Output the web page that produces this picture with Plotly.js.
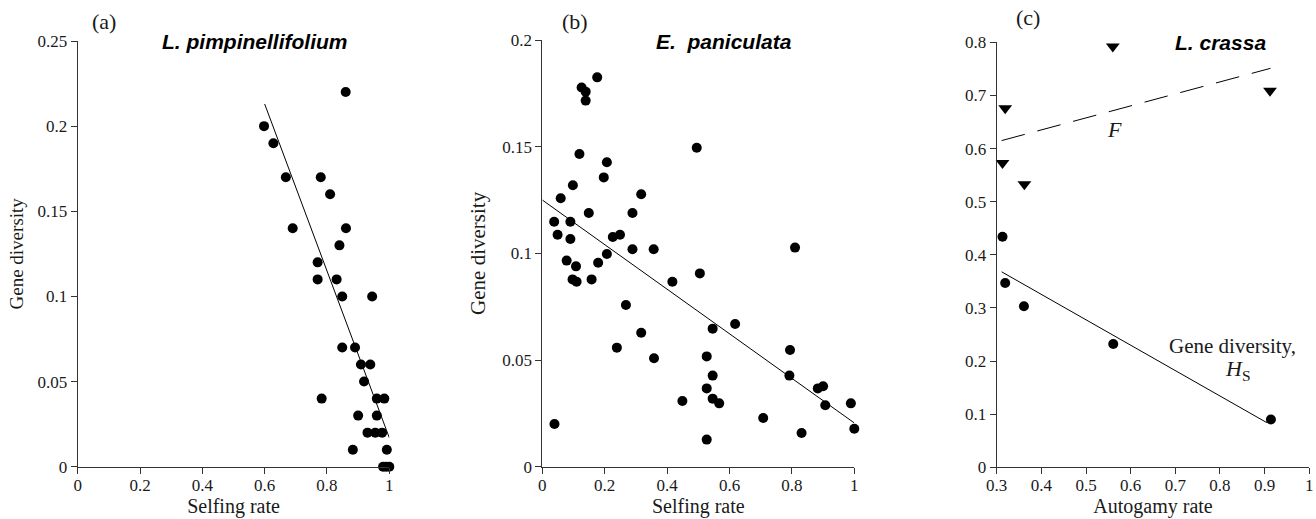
<!DOCTYPE html>
<html>
<head>
<meta charset="utf-8">
<script src="https://cdn.plot.ly/plotly-3.0.1.min.js"></script>
<style>
  html, body { margin: 0; padding: 0; background: #fff; }
  #chart { width: 1316px; height: 519px; }
</style>
</head>
<body>
<div id="chart"></div>
<script>
// ---- Panel (a): L. pimpinellifolium ----
const selfingA = [0.86, 0.598, 0.628, 0.668, 0.78, 0.81, 0.69, 0.861, 0.84, 0.77, 0.77, 0.831, 0.849, 0.945,
                  0.849, 0.89, 0.909, 0.939, 0.919, 0.783, 0.96, 0.984, 0.90, 0.96, 0.93, 0.955, 0.977,
                  0.883, 0.992, 0.98, 0.99, 1.0];
const diversityA = [0.22, 0.20, 0.19, 0.17, 0.17, 0.16, 0.14, 0.14, 0.13, 0.12, 0.11, 0.11, 0.10, 0.10,
                    0.07, 0.07, 0.06, 0.06, 0.05, 0.04, 0.04, 0.04, 0.03, 0.03, 0.02, 0.02, 0.02,
                    0.01, 0.01, 0.0, 0.0, 0.0];
const fitA_x = [0.6, 1.0];
const fitA_y = [0.213, 0.017];

// ---- Panel (b): E. paniculata ----
const selfingB = [0.176, 0.126, 0.139, 0.139, 0.495, 0.119, 0.207, 0.197, 0.098, 0.317, 0.059, 0.149, 0.289,
                  0.038, 0.09, 0.049, 0.09, 0.226, 0.249, 0.289, 0.357, 0.81, 0.207, 0.078, 0.108, 0.179,
                  0.097, 0.11, 0.158, 0.505, 0.417, 0.268, 0.618, 0.546, 0.317, 0.239, 0.794, 0.358, 0.527,
                  0.546, 0.792, 0.527, 0.883, 0.90, 0.546, 0.567, 0.449, 0.989, 0.907, 0.708, 0.039, 1.0,
                  0.831, 0.527];
const diversityB = [0.1825, 0.1777, 0.1758, 0.1716, 0.1495, 0.1466, 0.1427, 0.1356, 0.1319, 0.1277, 0.1258, 0.1189, 0.1189,
                    0.1148, 0.1148, 0.1087, 0.1067, 0.1077, 0.1087, 0.1019, 0.1019, 0.1027, 0.0997, 0.0966, 0.0939, 0.0956,
                    0.0878, 0.0867, 0.0878, 0.0906, 0.0867, 0.0758, 0.0669, 0.0647, 0.0628, 0.0558, 0.0547, 0.0508, 0.0517,
                    0.0427, 0.0427, 0.0367, 0.0367, 0.0377, 0.0319, 0.0297, 0.0308, 0.0297, 0.0288, 0.0228, 0.020, 0.0178,
                    0.0158, 0.0127];
const fitB_x = [0.0, 1.0];
const fitB_y = [0.125, 0.0205];

// ---- Panel (c): L. crassa ----
const autogamyF = [0.56, 0.319, 0.912, 0.313, 0.362];
const valuesF = [0.792, 0.676, 0.709, 0.573, 0.533];
const autogamyH = [0.313, 0.319, 0.361, 0.561, 0.914];
const valuesH = [0.434, 0.347, 0.303, 0.232, 0.090];
const fitF_x = [0.311, 0.913];
const fitF_y = [0.615, 0.751];
const fitH_x = [0.311, 0.905];
const fitH_y = [0.368, 0.084];

// ---- tick labels ----
const ticksSelfing = [0, 0.2, 0.4, 0.6, 0.8, 1];
const ticksSelfingText = ['0', '0.2', '0.4', '0.6', '0.8', '1'];
const ticksDivA = [0, 0.05, 0.1, 0.15, 0.2, 0.25];
const ticksDivAText = ['0', '0.05', '0.1', '0.15', '0.2', '0.25'];
const ticksDivB = [0, 0.05, 0.1, 0.15, 0.2];
const ticksDivBText = ['0', '0.05', '0.1', '0.15', '0.2'];
const ticksAuto = [0.3, 0.4, 0.5, 0.6, 0.7, 0.8, 0.9, 1];
const ticksAutoText = ['0.3', '0.4', '0.5', '0.6', '0.7', '0.8', '0.9', '1'];
const ticksC = [0, 0.1, 0.2, 0.3, 0.4, 0.5, 0.6, 0.7, 0.8];
const ticksCText = ['0', '0.1', '0.2', '0.3', '0.4', '0.5', '0.6', '0.7', '0.8'];

const SERIF = 'Liberation Serif';
const SANS = 'Liberation Sans';
const INK = '#1a1a1a';
const dot = { color: '#000', size: 10, symbol: 'circle' };
const fitLine = { color: '#000', width: 1 };

const traces = [
  { x: selfingA, y: diversityA, xaxis: 'x', yaxis: 'y', type: 'scatter', mode: 'markers', marker: dot, cliponaxis: false, name: 'L. pimpinellifolium' },
  { x: fitA_x, y: fitA_y, xaxis: 'x', yaxis: 'y', type: 'scatter', mode: 'lines', line: fitLine, name: 'fit (a)' },
  { x: selfingB, y: diversityB, xaxis: 'x2', yaxis: 'y2', type: 'scatter', mode: 'markers', marker: dot, cliponaxis: false, name: 'E. paniculata' },
  { x: fitB_x, y: fitB_y, xaxis: 'x2', yaxis: 'y2', type: 'scatter', mode: 'lines', line: fitLine, name: 'fit (b)' },
  { x: autogamyF, y: valuesF, xaxis: 'x3', yaxis: 'y3', type: 'scatter', mode: 'markers', marker: { color: '#000', size: 12, symbol: 'triangle-down' }, cliponaxis: false, name: 'F' },
  { x: fitF_x, y: fitF_y, xaxis: 'x3', yaxis: 'y3', type: 'scatter', mode: 'lines', line: { color: '#000', width: 1, dash: '24px,13px' }, name: 'fit F' },
  { x: autogamyH, y: valuesH, xaxis: 'x3', yaxis: 'y3', type: 'scatter', mode: 'markers', marker: dot, cliponaxis: false, name: 'Hs' },
  { x: fitH_x, y: fitH_y, xaxis: 'x3', yaxis: 'y3', type: 'scatter', mode: 'lines', line: fitLine, name: 'fit Hs' }
];

function axis(extra) {
  return Object.assign({
    showline: true, linecolor: '#333', linewidth: 1,
    ticks: 'outside', ticklen: 6, tickwidth: 1, tickcolor: '#333',
    showgrid: false, zeroline: false, fixedrange: true,
    tickfont: { family: SERIF, size: 17, color: INK },
    automargin: false
  }, extra);
}

const W = 1316, H = 519;
const xTitleFont = { family: SERIF, size: 20, color: INK };
const layout = {
  width: W, height: H,
  margin: { l: 0, r: 0, t: 0, b: 0 },
  paper_bgcolor: '#fff', plot_bgcolor: '#fff',
  showlegend: false,
  xaxis: axis({ domain: [77.7 / W, 389.3 / W], range: [0, 1], anchor: 'y', tickvals: ticksSelfing, ticktext: ticksSelfingText,
    ticklabelstandoff: -3, title: { text: 'Selfing rate', font: xTitleFont, standoff: 4 } }),
  yaxis: axis({ domain: [(H - 466.7) / H, (H - 41) / H], range: [0, 0.25], anchor: 'x', tickvals: ticksDivA, ticktext: ticksDivAText,
    title: { text: 'Gene diversity', font: { family: SERIF, size: 19, color: INK }, standoff: 8 } }),
  xaxis2: axis({ domain: [542.3 / W, 854.3 / W], range: [0, 1], anchor: 'y2', tickvals: ticksSelfing, ticktext: ticksSelfingText,
    ticklabelstandoff: -3, title: { text: 'Selfing rate', font: xTitleFont, standoff: 4 } }),
  yaxis2: axis({ domain: [(H - 466.7) / H, (H - 40) / H], range: [0, 0.2], anchor: 'x2', tickvals: ticksDivB, ticktext: ticksDivBText,
    title: { text: 'Gene diversity', font: { family: SERIF, size: 21, color: INK }, standoff: 10 } }),
  xaxis3: axis({ domain: [996.7 / W, 1309.3 / W], range: [0.3, 1], anchor: 'y3', tickvals: ticksAuto, ticktext: ticksAutoText,
    ticklabelstandoff: -4, title: { text: 'Autogamy rate', font: xTitleFont, standoff: 5 } }),
  yaxis3: axis({ domain: [(H - 467.3) / H, (H - 42.3) / H], range: [0, 0.8], anchor: 'x3', tickvals: ticksC, ticktext: ticksCText }),
  annotations: [
    { text: '(a)', xref: 'paper', yref: 'paper', x: 104.5 / W, y: (H - 21) / H, showarrow: false, xanchor: 'center', yanchor: 'middle', font: { family: SERIF, size: 22, color: INK } },
    { text: '(b)', xref: 'paper', yref: 'paper', x: 575 / W, y: (H - 21) / H, showarrow: false, xanchor: 'center', yanchor: 'middle', font: { family: SERIF, size: 22, color: INK } },
    { text: '(c)', xref: 'paper', yref: 'paper', x: 1028 / W, y: (H - 18) / H, showarrow: false, xanchor: 'center', yanchor: 'middle', font: { family: SERIF, size: 22, color: INK } },
    { text: '<b><i>L. pimpinellifolium</i></b>', xref: 'paper', yref: 'paper', x: 254.5 / W, y: (H - 42) / H, showarrow: false, xanchor: 'center', yanchor: 'middle', font: { family: SANS, size: 21, color: '#000' } },
    { text: '<b><i>E.  paniculata</i></b>', xref: 'paper', yref: 'paper', x: 724 / W, y: (H - 42) / H, showarrow: false, xanchor: 'center', yanchor: 'middle', font: { family: SANS, size: 21, color: '#000' } },
    { text: '<b><i>L. crassa</i></b>', xref: 'paper', yref: 'paper', x: 1220.5 / W, y: (H - 43) / H, showarrow: false, xanchor: 'center', yanchor: 'middle', font: { family: SANS, size: 21, color: '#000' } },
    { text: '<i>F</i>', xref: 'paper', yref: 'paper', x: 1114 / W, y: (H - 129) / H, showarrow: false, xanchor: 'center', yanchor: 'middle', font: { family: SERIF, size: 22, color: INK } },
    { text: 'Gene diversity,', xref: 'paper', yref: 'paper', x: 1232 / W, y: (H - 346) / H, showarrow: false, xanchor: 'center', yanchor: 'middle', font: { family: SERIF, size: 21, color: INK } },
    { text: '<i>H</i><sub>S</sub>', xref: 'paper', yref: 'paper', x: 1237 / W, y: (H - 370) / H, showarrow: false, xanchor: 'center', yanchor: 'middle', font: { family: SERIF, size: 22, color: INK } }
  ]
};

Plotly.newPlot('chart', traces, layout, { displayModeBar: false, staticPlot: true });
</script>
</body>
</html>
